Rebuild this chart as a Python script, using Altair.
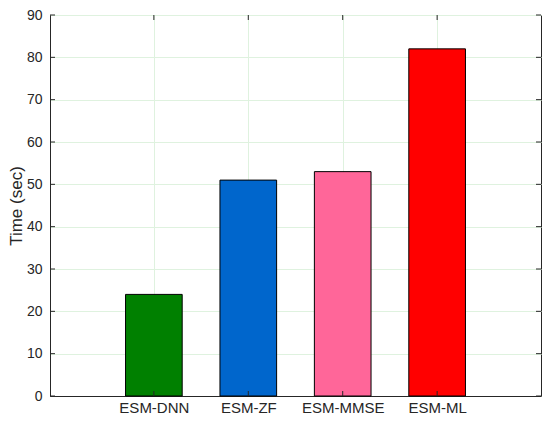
import altair as alt
import pandas as pd

categories = ["ESM-DNN", "ESM-ZF", "ESM-MMSE", "ESM-ML"]
positions = [1, 2, 3, 4]
times = [24, 51, 53, 82]
colors = ["#008000", "#0066cc", "#ff6699", "#ff0000"]
y_ticks = [0, 10, 20, 30, 40, 50, 60, 70, 80, 90]

W, H = 491, 381
df = pd.DataFrame({"cat": categories, "pos": positions, "time": times, "color": colors})
df["x0"] = df["pos"] - 0.3
df["x1"] = df["pos"] + 0.3
ticks_df = pd.DataFrame({"v": y_ticks})

label_expr = "datum.value==1?'ESM-DNN':datum.value==2?'ESM-ZF':datum.value==3?'ESM-MMSE':datum.value==4?'ESM-ML':''"

xscale = alt.Scale(domain=[-0.1, 5.1], nice=False, zero=False)
yscale = alt.Scale(domain=[0, 90], nice=False)

bars = alt.Chart(df).mark_rect(stroke="#000000", strokeWidth=1).encode(
    x=alt.X("x0:Q", scale=xscale,
            axis=alt.Axis(values=positions, labelExpr=label_expr, title=None, ticks=False,
                          grid=True, gridColor="#dff2df", gridWidth=1,
                          labelFontSize=15, labelPadding=4, labelColor="#262626",
                          domainColor="#262626")),
    x2="x1:Q",
    y=alt.Y("time:Q", scale=yscale,
            axis=alt.Axis(values=y_ticks, title="Time (sec)", ticks=False, grid=True,
                          gridColor="#dff2df", gridWidth=1, labelFontSize=14,
                          labelPadding=8, labelColor="#262626", titleFontSize=17,
                          titleFontWeight="normal", titleColor="#262626", titlePadding=1,
                          domainColor="#262626")),
    y2=alt.datum(0),
    color=alt.Color("color:N", scale=None),
)

tick_color = "#262626"
left_ticks = alt.Chart(ticks_df).mark_rule(color=tick_color).encode(
    x=alt.value(0), x2=alt.value(5), y=alt.Y("v:Q", scale=yscale))
right_ticks = alt.Chart(ticks_df).mark_rule(color=tick_color).encode(
    x=alt.value(W - 5), x2=alt.value(W), y=alt.Y("v:Q", scale=yscale))
top_ticks = alt.Chart(df).mark_rule(color=tick_color).encode(
    x=alt.X("pos:Q", scale=xscale), y=alt.value(0), y2=alt.value(5))
bottom_ticks = alt.Chart(df).mark_rule(color=tick_color).encode(
    x=alt.X("pos:Q", scale=xscale), y=alt.value(H - 5), y2=alt.value(H))

chart = alt.layer(bars, left_ticks, right_ticks, top_ticks, bottom_ticks).properties(
    width=W, height=H,
    autosize=alt.AutoSizeParams(type="none"),
    padding={"left": 42, "top": 7, "right": 1, "bottom": 20},
).configure(font="Liberation Sans").configure_view(stroke="#262626", strokeWidth=1)

chart.save("out.html", embed_options={"renderer": "svg", "actions": False})
